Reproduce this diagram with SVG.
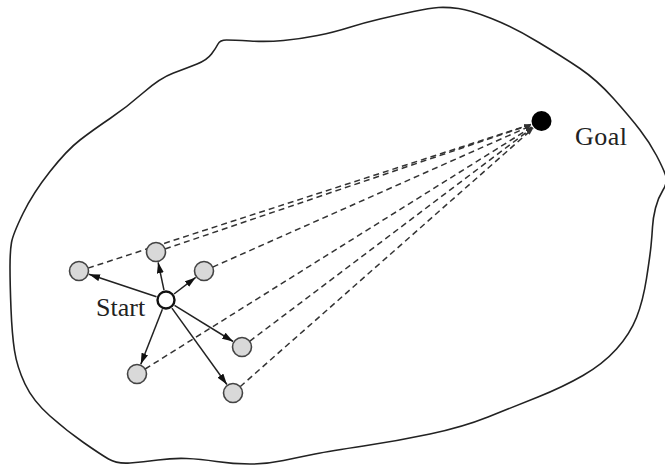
<svg xmlns="http://www.w3.org/2000/svg" width="665" height="468" viewBox="0 0 665 468">
<style>
.boundary{fill:none;stroke:#222;stroke-width:1.6}
.arrow{fill:none;stroke:#222;stroke-width:1.5;marker-end:url(#ah)}
.dash{fill:none;stroke:#333;stroke-width:1.5;stroke-dasharray:6 4;marker-end:url(#ahs)}
.gray{fill:#d9d9d9;stroke:#444;stroke-width:1.6}
.start{fill:#fff;stroke:#111;stroke-width:2.4}
.goal{fill:#000}
.lbl{font-family:"Liberation Serif","Times New Roman",serif;font-size:26px;fill:#222}
</style>
<defs>
<marker id="ah" viewBox="0 0 11 7" refX="11" refY="3.5" markerWidth="11" markerHeight="7" markerUnits="userSpaceOnUse" orient="auto">
<path d="M0,0 L11,3.5 L0,7 Z" fill="#111"/>
</marker>
<marker id="ahs" viewBox="0 0 7 5" refX="7" refY="2.5" markerWidth="7" markerHeight="5" markerUnits="userSpaceOnUse" orient="auto">
<path d="M0,0 L7,2.5 L0,5 Z" fill="#333"/>
</marker>
</defs>
<path class="boundary" d="M226.5,40 Q233,40 250,41 Q267,42 283.5,40.5 Q300,39 317.5,35.5 Q335,32 349,27.5 Q363,23 380,19 Q397,15 413.5,11.5 Q430,8 438.5,7.5 Q447,7 458.5,8.5 Q470,10 491.5,18.5 Q513,27 538,42 Q563,57 580,68.5 Q597,80 613.5,98.5 Q630,117 640,130 Q650,143 656.5,155.5 Q663,168 665.5,175 Q668,182 663,190 Q658,198 655.5,208 Q653,218 652.5,227 Q652,236 651,246 Q650,256 646.5,278.5 Q643,301 636.5,317.5 Q630,334 616.5,349 Q603,364 583,375.5 Q563,387 538,397 Q513,407 488,417 Q463,427 430,434 Q397,441 363.5,446 Q330,451 315,454 Q300,457 283.5,460.5 Q267,464 250,464 Q233,464 216.5,461.5 Q200,459 186.5,458.5 Q173,458 158,460 Q143,462 130,463 Q117,464 108.5,459 Q100,454 83.5,442.5 Q67,431 50,416 Q33,401 25,384 Q17,367 14.5,350.5 Q12,334 11,309 Q10,284 10,267.5 Q10,251 11.5,242.5 Q13,234 23,213.5 Q33,193 50,171.5 Q67,150 80,140 Q93,130 110,118.5 Q127,107 143.5,92.5 Q160,78 173.5,73 Q187,68 197,64 Q207,60 211.5,54 Q216,48 218,44 Q220,40 226.5,40 Z"/>
<g id="connectors">
<line class="dash" x1="88" y1="268.1" x2="531" y2="124.4"/>
<line class="dash" x1="165" y1="249" x2="531.1" y2="124.5"/>
<line class="dash" x1="212.7" y1="267.1" x2="531.4" y2="125.5"/>
<line class="dash" x1="249.6" y1="341.3" x2="532.7" y2="127.6"/>
<line class="dash" x1="145.1" y1="369" x2="532.2" y2="126.8"/>
<line class="dash" x1="240.1" y1="386.7" x2="533.2" y2="128.3"/>
<line class="arrow" x1="156.5" y1="296.8" x2="89" y2="274.3"/>
<line class="arrow" x1="164" y1="290.2" x2="158.1" y2="262.3"/>
<line class="arrow" x1="174" y1="294" x2="195.7" y2="277.4"/>
<line class="arrow" x1="174.5" y1="305.3" x2="233.1" y2="341.5"/>
<line class="arrow" x1="162.4" y1="309.3" x2="140.8" y2="364.2"/>
<line class="arrow" x1="171.9" y1="308.1" x2="226.9" y2="384.5"/>
</g>
<g id="n1"><circle class="gray" cx="79" cy="271" r="9.5"/></g>
<g id="n2"><circle class="gray" cx="156" cy="252" r="9.5"/></g>
<g id="n3"><circle class="gray" cx="204" cy="271" r="9.5"/></g>
<g id="n4"><circle class="gray" cx="242" cy="347" r="9.5"/></g>
<g id="n5"><circle class="gray" cx="137" cy="374" r="9.5"/></g>
<g id="n6"><circle class="gray" cx="233" cy="393" r="9.5"/></g>
<g id="start"><circle class="start" cx="166" cy="300" r="8.5"/><text class="lbl" x="96" y="316">Start</text></g>
<g id="goal"><circle class="goal" cx="541.5" cy="121" r="10"/><text class="lbl" x="575" y="145" letter-spacing="0.5">Goal</text></g>
</svg>
